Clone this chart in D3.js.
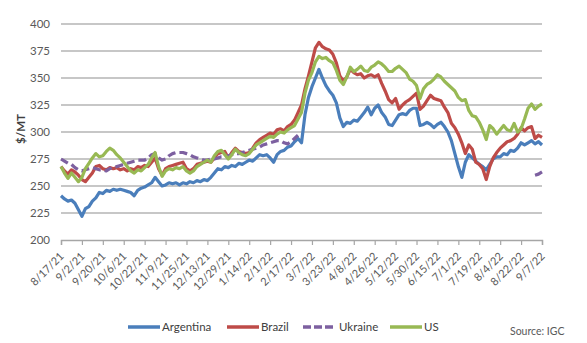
<!DOCTYPE html>
<html>
<head>
<meta charset="utf-8">
<script src="https://cdn.jsdelivr.net/npm/d3@7"></script>
<style>
  html, body { margin: 0; padding: 0; background: #ffffff; }
  svg { display: block; font-family: Lato, "Open Sans", sans-serif; }
</style>
</head>
<body>
<svg id="chart" width="587" height="343"></svg>
<script>
// Daily export quotes ($/MT), one value every second trading day from 8/17/21 to 9/7/22.
const tickLabels = ["8/17/21","9/2/21","9/20/21","10/6/21","10/22/21","11/9/21","11/25/21",
  "12/13/21","12/29/21","1/14/22","2/1/22","2/17/22","3/7/22","3/23/22","4/8/22","4/26/22",
  "5/12/22","5/30/22","6/15/22","7/1/22","7/19/22","8/4/22","8/22/22","9/7/22"];
const tradingDaysPerLabel = 12;
const daysPerSample = 2;

const argentina = [
  241,238,236,237,234,228, 222,229,231,236,239,244, 243,246,245,247,246,247,
  246,245,244,241,246,248, 249,251,253,258,254,250, 251,253,252,253,251,253,
  252,254,253,255,254,256, 255,258,262,266,265,268, 267,269,268,271,270,272,
  274,273,276,279,278,279, 276,272,279,282,283,286, 287,291,294,290,316,332,
  342,350,358,350,343,338, 334,327,313,305,309,308, 311,310,314,318,323,316,
  322,325,318,314,307,306, 311,316,317,316,320,322, 322,306,307,309,307,304,
  307,309,305,300,292,280, 268,258,272,279,276,273, 270,268,265,270,275,277,
  277,280,279,283,282,285, 290,288,290,292,289,291, 288];

const brazil = [
  268,264,261,265,263,260, 256,254,258,262,268,269, 266,265,267,266,267,265,
  266,264,266,265,268,267, 269,268,272,276,266,260, 266,268,269,270,271,272,
  266,264,266,270,271,272, 273,272,276,280,281,282, 276,281,285,282,281,280,
  281,285,290,293,295,297, 299,298,302,303,301,305, 307,311,318,325,340,352,
  365,378,383,379,377,376, 372,364,352,347,351,358, 355,353,354,350,352,353,
  351,353,345,338,330,327, 331,321,325,328,330,333, 336,321,324,329,334,331,
  330,329,323,318,308,304, 298,290,280,288,284,272, 270,266,256,268,276,281,
  285,288,291,292,294,298, 304,301,304,305,294,297, 295];

const ukraine = [
  275,273,271,270,267,265, 264,265,266,267,266,265, 265,264,266,268,268,269,
  270,271,272,273,274,274, 274,276,279,280,276,274, 275,278,280,281,281,281,
  280,279,277,276,275,274, 274,275,275,276,277,277, 278,279,280,280,281,282,
  283,284,285,286,288,289, 290,291,292,292,290,289, 291,294,297,null,null,null,
  null,null,null,null,null,null, null,null,null,null,null,null, null,null,null,null,null,null,
  null,null,null,null,null,null, null,null,null,null,null,null, null,null,null,null,null,null,
  null,null,null,null,null,null, null,null,null,null,null,null, null,null,null,null,null,null,
  null,null,null,null,null,null, null,null,null,null,260,261, 263];

const us = [
  268,262,257,262,258,254, 258,266,271,276,280,277, 278,282,285,283,279,276,
  272,268,264,262,265,264, 267,270,276,281,268,259, 264,266,265,267,266,268,
  264,262,264,268,270,272, 274,272,278,282,283,279, 275,279,284,281,279,278,
  280,284,288,290,292,294, 296,295,298,300,299,302, 304,306,312,318,336,348,
  355,365,370,368,369,366, 364,357,348,344,351,360, 356,358,361,357,356,360,
  362,365,363,360,356,356, 359,361,358,355,349,347, 343,331,340,344,346,349,
  353,351,347,344,341,338, 332,329,330,320,315,314, 309,302,293,306,303,298,
  302,306,302,301,308,300, 303,312,322,326,321,324, 326];

const seriesNames = ["Argentina", "Brazil", "Ukraine", "US"];
const seriesValues = [argentina, brazil, ukraine, us];
const seriesColors = ["#4a7ebb", "#be4b48", "#7d60a0", "#98b954"];
const seriesDashes = [null, null, "8,4", null];
const yTicks = [200, 225, 250, 275, 300, 325, 350, 375, 400];

const svg = d3.select("#chart");
const lastDay = (tickLabels.length - 1) * tradingDaysPerLabel;

const x = d3.scaleLinear().domain([0, lastDay]).range([61, 542]);
const y = d3.scaleLinear().domain([200, 400]).range([240, 24]);

// horizontal gridlines
svg.append("g")
  .selectAll("line")
  .data(yTicks.filter(v => v > 200))
  .join("line")
  .attr("x1", x(0)).attr("x2", x(lastDay))
  .attr("y1", d => y(d)).attr("y2", d => y(d))
  .attr("stroke", "#b4b4b4").attr("stroke-width", 1.4);

// y axis labels (no axis line)
const yAxis = d3.axisLeft(y).tickValues(yTicks).tickSize(0).tickPadding(11);
const gy = svg.append("g").attr("transform", `translate(${x(0)},0)`).call(yAxis);
gy.select(".domain").remove();
gy.selectAll("text")
  .attr("fill", "#595959")
  .style("font-size", "11.5px")
  .style("font-family", "Lato, sans-serif");

svg.append("text")
  .attr("transform", "translate(25,129) rotate(-90)")
  .attr("text-anchor", "middle")
  .attr("fill", "#404040")
  .style("font-size", "11.5px")
  .style("font-weight", "bold")
  .text("$/MT");

// x axis: category ticks every 12 trading days
const xTickVals = tickLabels.map((_, i) => i * tradingDaysPerLabel);
const xAxis = d3.axisBottom(x)
  .tickValues(xTickVals)
  .tickSize(5)
  .tickFormat((d, i) => tickLabels[i]);
const gx = svg.append("g").attr("transform", `translate(0,${y(200)})`).call(xAxis);
gx.select(".domain").attr("stroke", "#a6a6a6").attr("stroke-width", 1.4);
gx.selectAll(".tick line").attr("stroke", "#a6a6a6").attr("stroke-width", 1.2);
gx.selectAll("text")
  .attr("fill", "#595959")
  .style("font-size", "11px")
  .style("font-family", "Lato, sans-serif")
  .attr("text-anchor", "end")
  .attr("dy", null)
  .attr("y", 0)
  .attr("transform", "translate(3,17) rotate(-45)");

// price lines
const line = d3.line()
  .defined(d => d.v != null)
  .x(d => x(d.i * daysPerSample))
  .y(d => y(d.v));

seriesValues.forEach((vals, k) => {
  svg.append("path")
    .datum(vals.map((v, i) => ({ i, v })))
    .attr("fill", "none")
    .attr("stroke", seriesColors[k])
    .attr("stroke-width", 3.2)
    .attr("stroke-linejoin", "round")
    .attr("stroke-dasharray", seriesDashes[k])
    .attr("d", line);
});

// legend
const legendX = [128, 227, 303, 390];
const legend = svg.append("g").attr("transform", "translate(0,327)");
seriesNames.forEach((name, k) => {
  legend.append("line")
    .attr("x1", legendX[k]).attr("x2", legendX[k] + 32)
    .attr("y1", 0).attr("y2", 0)
    .attr("stroke", seriesColors[k])
    .attr("stroke-width", 3.5)
    .attr("stroke-dasharray", seriesDashes[k] ? "8,3" : null);
  legend.append("text")
    .attr("x", legendX[k] + (seriesDashes[k] ? 36 : 34))
    .attr("y", 4)
    .attr("fill", "#404040")
    .style("font-size", "11.5px")
    .text(name);
});

svg.append("text")
  .attr("x", 510).attr("y", 335)
  .attr("fill", "#595959")
  .style("font-size", "10.5px")
  .text("Source: IGC");
</script>
</body>
</html>
